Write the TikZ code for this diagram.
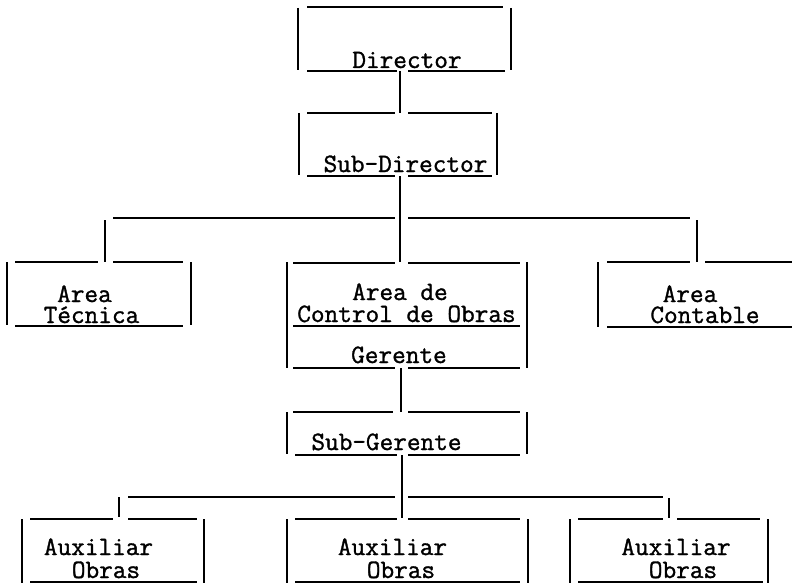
\documentclass[tikz,border=0pt]{standalone}
\usepackage{fontspec}
\newfontfamily\typew[FakeBold=1.2]{Latin Modern Mono}
\begin{document}
\begin{tikzpicture}[x=1pt,y=-1pt,
  rule/.style={line width=1.5pt},
  conn/.style={line width=1.5pt},
  lbl/.style={font=\fontsize{26.5}{26}\selectfont\typew, inner sep=0pt, anchor=base}]
\useasboundingbox (0,0) rectangle (792,583);
% ---------- Director ----------
\draw[rule] (307,7) -- (503,7);
\draw[rule] (298,8) -- (298,70);
\draw[rule] (511,8) -- (511,70);
\draw[rule] (307,71) -- (397,71) (408,71) -- (505,71);
\node[lbl] (director) at (407,68) {Director};
% ---------- Sub-Director ----------
\draw[rule] (307,113) -- (395,113) (408,113) -- (492,113);
\draw[rule] (299,113) -- (299,175);
\draw[rule] (497,113) -- (497,175);
\draw[rule] (307,176) -- (395,176) (408,176) -- (492,176);
\node[lbl] (subdir) at (405.5,172) {Sub-Director};
% connector Director -> Sub-Director
\coordinate (dirS) at (400,71);
\coordinate (sdN) at (400,113);
\draw[conn] (dirS) -- (sdN);
% ---------- level 1 bus ----------
\coordinate (sdS) at (400,176);
\coordinate (acN) at (400,262);
\draw[conn] (sdS) -- (acN);
\coordinate (busAL) at (113,218);
\coordinate (busAM1) at (395,218);
\coordinate (busAM2) at (408,218);
\coordinate (busAR) at (690,218);
\draw[conn] (busAL) -- (busAM1);
\draw[conn] (busAM2) -- (busAR);
\coordinate (atTop) at (105,220);
\coordinate (atN) at (105,262);
\draw[conn] (atTop) -- (atN);
\coordinate (coTop) at (697,220);
\coordinate (coN) at (697,262);
\draw[conn] (coTop) -- (coN);
% ---------- Area Tecnica ----------
\draw[rule] (15,262) -- (98,262) (113,262) -- (183,262);
\draw[rule] (7,262) -- (7,325);
\draw[rule] (191,262) -- (191,325);
\draw[rule] (15,326) -- (183,326);
\node[lbl] (at1) at (84.5,302) {Area};
\node[lbl] (at2) at (91.5,323) {Técnica};
% ---------- Area de Control de Obras / Gerente ----------
\draw[rule] (293,263) -- (395,263) (408,263) -- (520,263);
\draw[rule] (287,262) -- (287,368);
\draw[rule] (527,262) -- (527,368);
\draw[rule] (293,326) -- (520,326);
\draw[rule] (293,368) -- (395,368) (408,368) -- (520,368);
\node[lbl] (ac1) at (400,300) {Area de};
\node[lbl] (ac2) at (406.5,322) {Control de Obras};
\node[lbl] (ger) at (399,363) {Gerente};
% ---------- Area Contable ----------
\draw[rule] (607,262) -- (690,262) (705,262) -- (792,262);
\draw[rule] (598,262) -- (598,327);
\draw[rule] (607,327) -- (792,327);
\node[lbl] (co1) at (690,302) {Area};
\node[lbl] (co2) at (705,323) {Contable};
% ---------- Sub-Gerente ----------
\coordinate (gerS) at (401,368);
\coordinate (sgN) at (401,412);
\draw[conn] (gerS) -- (sgN);
\draw[rule] (293,412) -- (393,412) (408,412) -- (520,412);
\draw[rule] (287,412) -- (287,454);
\draw[rule] (527,412) -- (527,454);
\draw[rule] (295,455) -- (397,455) (408,455) -- (520,455);
\node[lbl] (subger) at (386.5,450) {Sub-Gerente};
% ---------- level 2 bus ----------
\coordinate (sgS) at (402,455);
\coordinate (ax2N) at (402,518);
\draw[conn] (sgS) -- (ax2N);
\coordinate (busBL) at (128,497);
\coordinate (busBM1) at (395,497);
\coordinate (busBM2) at (408,497);
\coordinate (busBR) at (663,497);
\draw[conn] (busBL) -- (busBM1);
\draw[conn] (busBM2) -- (busBR);
\coordinate (ax1Top) at (119,497);
\coordinate (ax1N) at (119,517);
\draw[conn] (ax1Top) -- (ax1N);
\coordinate (ax3Top) at (669,498);
\coordinate (ax3N) at (669,518);
\draw[conn] (ax3Top) -- (ax3N);
% ---------- Auxiliar Obras (left) ----------
\draw[rule] (30,519) -- (113,519) (128,519) -- (197,519);
\draw[rule] (22,519) -- (22,583);
\draw[rule] (204,519) -- (204,583);
\draw[rule] (30,582) -- (197,582);
\node[lbl] (ax1a) at (98.5,555) {Auxiliar};
\node[lbl] (ax1b) at (106,578) {Obras};
% ---------- Auxiliar Obras (middle) ----------
\draw[rule] (295,519) -- (397,519) (408,519) -- (520,519);
\draw[rule] (287,519) -- (287,583);
\draw[rule] (528,519) -- (528,583);
\draw[rule] (295,582) -- (520,582);
\node[lbl] (ax2a) at (392.5,555) {Auxiliar};
\node[lbl] (ax2b) at (401,578) {Obras};
% ---------- Auxiliar Obras (right) ----------
\draw[rule] (578,519) -- (663,519) (677,519) -- (760,519);
\draw[rule] (570,519) -- (570,583);
\draw[rule] (768,519) -- (768,583);
\draw[rule] (578,582) -- (763,582);
\node[lbl] (ax3a) at (676,555) {Auxiliar};
\node[lbl] (ax3b) at (683,578) {Obras};
\end{tikzpicture}
\end{document}
